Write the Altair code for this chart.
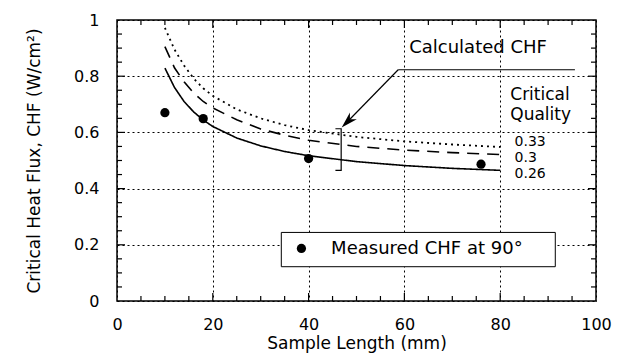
import altair as alt
import pandas as pd

# ---- data ----
curve_x = [10, 12, 14, 16, 18, 20, 25, 30, 35, 40, 50, 60, 70, 80]
chf_q026 = [0.829, 0.760, 0.710, 0.673, 0.644, 0.621, 0.580, 0.552, 0.532, 0.517, 0.496, 0.482, 0.472, 0.465]
chf_q030 = [0.905, 0.830, 0.780, 0.740, 0.710, 0.687, 0.645, 0.612, 0.590, 0.572, 0.550, 0.537, 0.528, 0.521]
chf_q033 = [0.972, 0.895, 0.838, 0.792, 0.757, 0.730, 0.682, 0.650, 0.626, 0.608, 0.584, 0.568, 0.557, 0.548]

meas_x = [10, 18, 40, 76]
meas_chf = [0.670, 0.649, 0.507, 0.487]

x_labels = [0, 20, 40, 60, 80, 100]
y_labels = [0, 0.2, 0.4, 0.6, 0.8, 1.0]
x_minor = [5, 10, 15, 25, 30, 35, 45, 50, 55, 65, 70, 75, 85, 90, 95]
x_major = [20, 40, 60, 80]
y_minor = [0.05, 0.1, 0.15, 0.25, 0.3, 0.35, 0.45, 0.5, 0.55, 0.65, 0.7, 0.75, 0.85, 0.9, 0.95]
y_major = [0.2, 0.4, 0.6, 0.8]

quality_labels = ["0.33", "0.3", "0.26"]

FONT = "DejaVu Sans"
W, H = 479, 281

xs = alt.Scale(domain=[0, 100], nice=False, zero=False)
ys = alt.Scale(domain=[0, 1], nice=False, zero=False)

xaxis = alt.Axis(values=x_labels, title="Sample Length (mm)", grid=True, ticks=False, domain=False,
                 labelFontSize=16, titleFontSize=17, labelPadding=15, titlePadding=3,
                 labelFont=FONT, titleFont=FONT, labelColor="black", titleColor="black",
                 titleFontWeight="normal", gridColor="black", gridDash=[2, 3], gridWidth=1,
                 gridOpacity=1, labelFlush=False)
yaxis = alt.Axis(values=y_labels, title="Critical Heat Flux, CHF (W/cm²)", grid=True, ticks=False,
                 domain=False, labelFontSize=16, titleFontSize=17, labelPadding=18, titlePadding=30,
                 labelFont=FONT, titleFont=FONT, labelColor="black", titleColor="black",
                 titleFontWeight="normal", gridColor="black", gridDash=[2, 3], gridWidth=1,
                 gridOpacity=1, labelFlush=False,
                 labelExpr="datum.value == 1 ? '1' : datum.value == 0 ? '0' : format(datum.value, '.1f')")


def curve(vals, dash, width):
    df = pd.DataFrame({"x": curve_x, "y": vals})
    return alt.Chart(df).mark_line(color="black", strokeWidth=width, strokeDash=dash).encode(
        x=alt.X("x:Q", scale=xs, axis=xaxis), y=alt.Y("y:Q", scale=ys, axis=yaxis))


base_lines = [
    curve(chf_q026, [1, 0], 1.6),
    curve(chf_q030, [12, 8], 1.6),
    curve(chf_q033, [2, 4], 1.8),
]

points = alt.Chart(pd.DataFrame({"x": meas_x, "y": meas_chf})).mark_point(
    filled=True, color="black", size=85, opacity=1).encode(x="x:Q", y="y:Q")


def ticks_x(vals, length, at_bottom):
    df = pd.DataFrame({"v": vals})
    if at_bottom:
        yy, yy2 = alt.value(H), alt.value(H - length)
    else:
        yy, yy2 = alt.value(0), alt.value(length)
    return alt.Chart(df).mark_rule(color="black", strokeWidth=1.2).encode(x="v:Q", y=yy, y2=yy2)


def ticks_y(vals, length, at_left):
    df = pd.DataFrame({"v": vals})
    if at_left:
        xx, xx2 = alt.value(0), alt.value(length)
    else:
        xx, xx2 = alt.value(W), alt.value(W - length)
    return alt.Chart(df).mark_rule(color="black", strokeWidth=1.2).encode(y="v:Q", x=xx, x2=xx2)


tick_layers = [
    ticks_x(x_minor, 5, True), ticks_x(x_major, 8, True),
    ticks_x(x_minor, 5, False), ticks_x(x_major, 8, False),
    ticks_y(y_minor, 5, True), ticks_y(y_major, 8, True),
    ticks_y(y_minor, 5, False), ticks_y(y_major, 8, False),
]

# legend box
legend_box = alt.Chart(pd.DataFrame({"a": [0]})).mark_rect(
    fill="white", stroke="black", strokeWidth=1).encode(
    x=alt.X(datum=34.3), x2=alt.X2(datum=91.5), y=alt.Y(datum=0.244), y2=alt.Y2(datum=0.122))
legend_dot = alt.Chart(pd.DataFrame({"a": [0]})).mark_point(
    filled=True, color="black", size=85, opacity=1).encode(x=alt.X(datum=38.5), y=alt.Y(datum=0.187))
legend_text = alt.Chart(pd.DataFrame({"a": [0]})).mark_text(
    text="Measured CHF at 90°", align="left", baseline="middle", font=FONT, fontSize=18,
    color="black").encode(x=alt.X(datum=44.7), y=alt.Y(datum=0.186))

# annotation: calculated CHF with arrow & bracket
calc_text = alt.Chart(pd.DataFrame({"a": [0]})).mark_text(
    text="Calculated CHF", align="left", baseline="middle", font=FONT, fontSize=18,
    color="black").encode(x=alt.X(datum=61.0), y=alt.Y(datum=0.902))
underline = alt.Chart(pd.DataFrame({"a": [0]})).mark_rule(color="black", strokeWidth=1.2).encode(
    x=alt.X(datum=58.7), x2=alt.X2(datum=95.6), y=alt.Y(datum=0.823))
arrow_line = alt.Chart(pd.DataFrame({"a": [0]})).mark_rule(color="black", strokeWidth=1.2).encode(
    x=alt.X(datum=58.7), x2=alt.X2(datum=48.0), y=alt.Y(datum=0.823), y2=alt.Y2(datum=0.636))
arrow_head = alt.Chart(pd.DataFrame({"a": [0]})).mark_point(
    shape="M0,0 L0.5,1.7 L0,1.2 L-0.5,1.7 Z", filled=True, color="black", size=380, angle=225,
    opacity=1).encode(x=alt.X(datum=46.9), y=alt.Y(datum=0.617))
bracket = alt.Chart(pd.DataFrame({"bx": [45.6, 46.8, 46.8, 45.6], "by": [0.613, 0.613, 0.465, 0.465],
                                  "o": [0, 1, 2, 3]})).mark_line(color="black", strokeWidth=1.2).encode(
    x="bx:Q", y="by:Q", order="o:Q")

crit = alt.Chart(pd.DataFrame({"t": ["Critical", "Quality"], "ty": [0.732, 0.661]})).mark_text(
    align="left", baseline="middle", font=FONT, fontSize=17, color="black").encode(
    x=alt.X(datum=82.1), y="ty:Q", text="t:N")
qual = alt.Chart(pd.DataFrame({"t": quality_labels, "ty": [0.566, 0.509, 0.452]})).mark_text(
    align="left", baseline="middle", font=FONT, fontSize=14, color="black").encode(
    x=alt.X(datum=83.0), y="ty:Q", text="t:N")

chart = alt.layer(
    *base_lines, points, bracket, arrow_line, arrow_head, underline, calc_text, crit, qual,
    legend_box, legend_dot, legend_text, *tick_layers
).properties(
    width=W, height=H,
    autosize=alt.AutoSizeParams(type="none"),
    padding={"left": 109, "top": 12, "right": 20, "bottom": 53},
    background="white",
).configure_view(stroke="black", strokeWidth=1.5)

chart.save("out.html", embed_options={"renderer": "svg", "actions": False})
